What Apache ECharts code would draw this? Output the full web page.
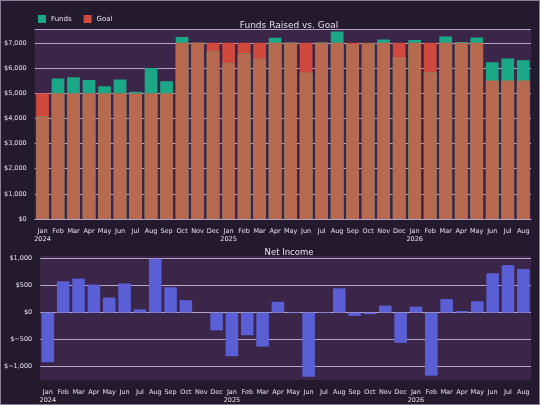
<!DOCTYPE html><html><head><meta charset="utf-8">
<script src="https://cdn.jsdelivr.net/npm/echarts@6/dist/echarts.min.js"></script>
<style>html,body{margin:0;padding:0;background:#231a2e}#c{width:538px;height:403px;border:1px solid #8a7f96}</style></head><body><div id="c"></div>
<script>
const months=['Jan 2024','Feb','Mar','Apr','May','Jun','Jul','Aug','Sep','Oct','Nov','Dec','Jan 2025','Feb','Mar','Apr','May','Jun','Jul','Aug','Sep','Oct','Nov','Dec','Jan 2026','Feb','Mar','Apr','May','Jun','Jul','Aug'];
const funds=[4080,5580,5630,5520,5280,5540,5060,6000,5470,7230,7000,6670,6190,6580,6370,7200,7010,5810,7010,7450,6950,6970,7130,6440,7110,5830,7250,7030,7210,6230,6380,6310];
const goal=[5000,5000,5000,5000,5000,5000,5000,5000,5000,7000,7000,7000,7000,7000,7000,7000,7000,7000,7000,7000,7000,7000,7000,7000,7000,7000,7000,7000,7000,5500,5500,5500];
const netIncome=[-920,580,630,520,280,540,60,1000,470,230,0,-330,-810,-420,-630,200,10,-1190,10,450,-60,-30,130,-560,110,-1170,250,30,210,730,880,810];
const overlap=funds.map((f,i)=>Math.min(f,goal[i]));
const txt='#e8e0f0';
const xl={color:txt,fontSize:6.5,lineHeight:8,interval:0,formatter:v=>v.replace(' ','\n')};
const gl={lineStyle:{color:'#b7a6c6',width:1}};
const money=v=>{const a=Math.abs(v).toLocaleString('en-US');return v<0?'$−'+a:'$'+a;};
const c=echarts.init(document.getElementById('c'));
c.setOption({backgroundColor:'#231a2e',animation:false,
textStyle:{fontFamily:'DejaVu Sans'},
title:[{text:'Funds Raised vs. Goal',left:283,top:15,textAlign:'center',textStyle:{color:txt,fontSize:9,fontWeight:'normal'}},
{text:'Net Income',left:283,top:242,textAlign:'center',textStyle:{color:txt,fontSize:8.5,fontWeight:'normal'}}],
legend:{left:32,top:9,itemWidth:8,itemHeight:8,itemGap:12,textStyle:{color:txt,fontSize:7},data:[{name:'Funds',icon:'rect'},{name:'Goal',icon:'rect'}]},
grid:[{left:32,right:8,top:28,height:190,show:true,backgroundColor:'#3b2548',borderWidth:0},
{left:32,right:8,top:255,height:127,show:true,backgroundColor:'#3b2548',borderWidth:0}],
xAxis:[{type:'category',gridIndex:0,data:months,axisLabel:xl,axisTick:{show:false},axisLine:{lineStyle:{color:'#b7a6c6'}}},
{type:'category',gridIndex:1,data:months,axisLabel:xl,axisTick:{show:false},axisLine:{show:false}}],
yAxis:[{type:'value',gridIndex:0,min:0,max:7550,interval:1000,axisLabel:{color:txt,fontSize:6.5,formatter:v=>v>7000?'':money(v)},splitLine:gl},
{type:'value',gridIndex:1,min:-1250,max:1050,axisLabel:{color:txt,fontSize:6.5,customValues:[-1000,-500,0,500,1000],formatter:money},axisTick:{show:false},splitLine:{show:false}}],
series:[
{name:'Goal',type:'bar',xAxisIndex:0,yAxisIndex:0,data:goal,barCategoryGap:'18%',itemStyle:{color:'#cf4a3c'}},
{name:'Funds',type:'bar',xAxisIndex:0,yAxisIndex:0,data:funds,barGap:'-100%',itemStyle:{color:'#1aa887'},z:3},
{name:'overlap',type:'bar',xAxisIndex:0,yAxisIndex:0,data:overlap,barGap:'-100%',itemStyle:{color:'#b76a4f'},z:4},
{name:'Net',type:'bar',xAxisIndex:1,yAxisIndex:1,data:netIncome,barCategoryGap:'18%',itemStyle:{color:'#5b5fd6'},
 markLine:{silent:true,symbol:'none',label:{show:false},lineStyle:{color:'#b7a6c6',type:'solid',width:1},data:[{yAxis:-1000},{yAxis:-500},{yAxis:0},{yAxis:500},{yAxis:1000}],z:1}}
]});
</script></body></html>
